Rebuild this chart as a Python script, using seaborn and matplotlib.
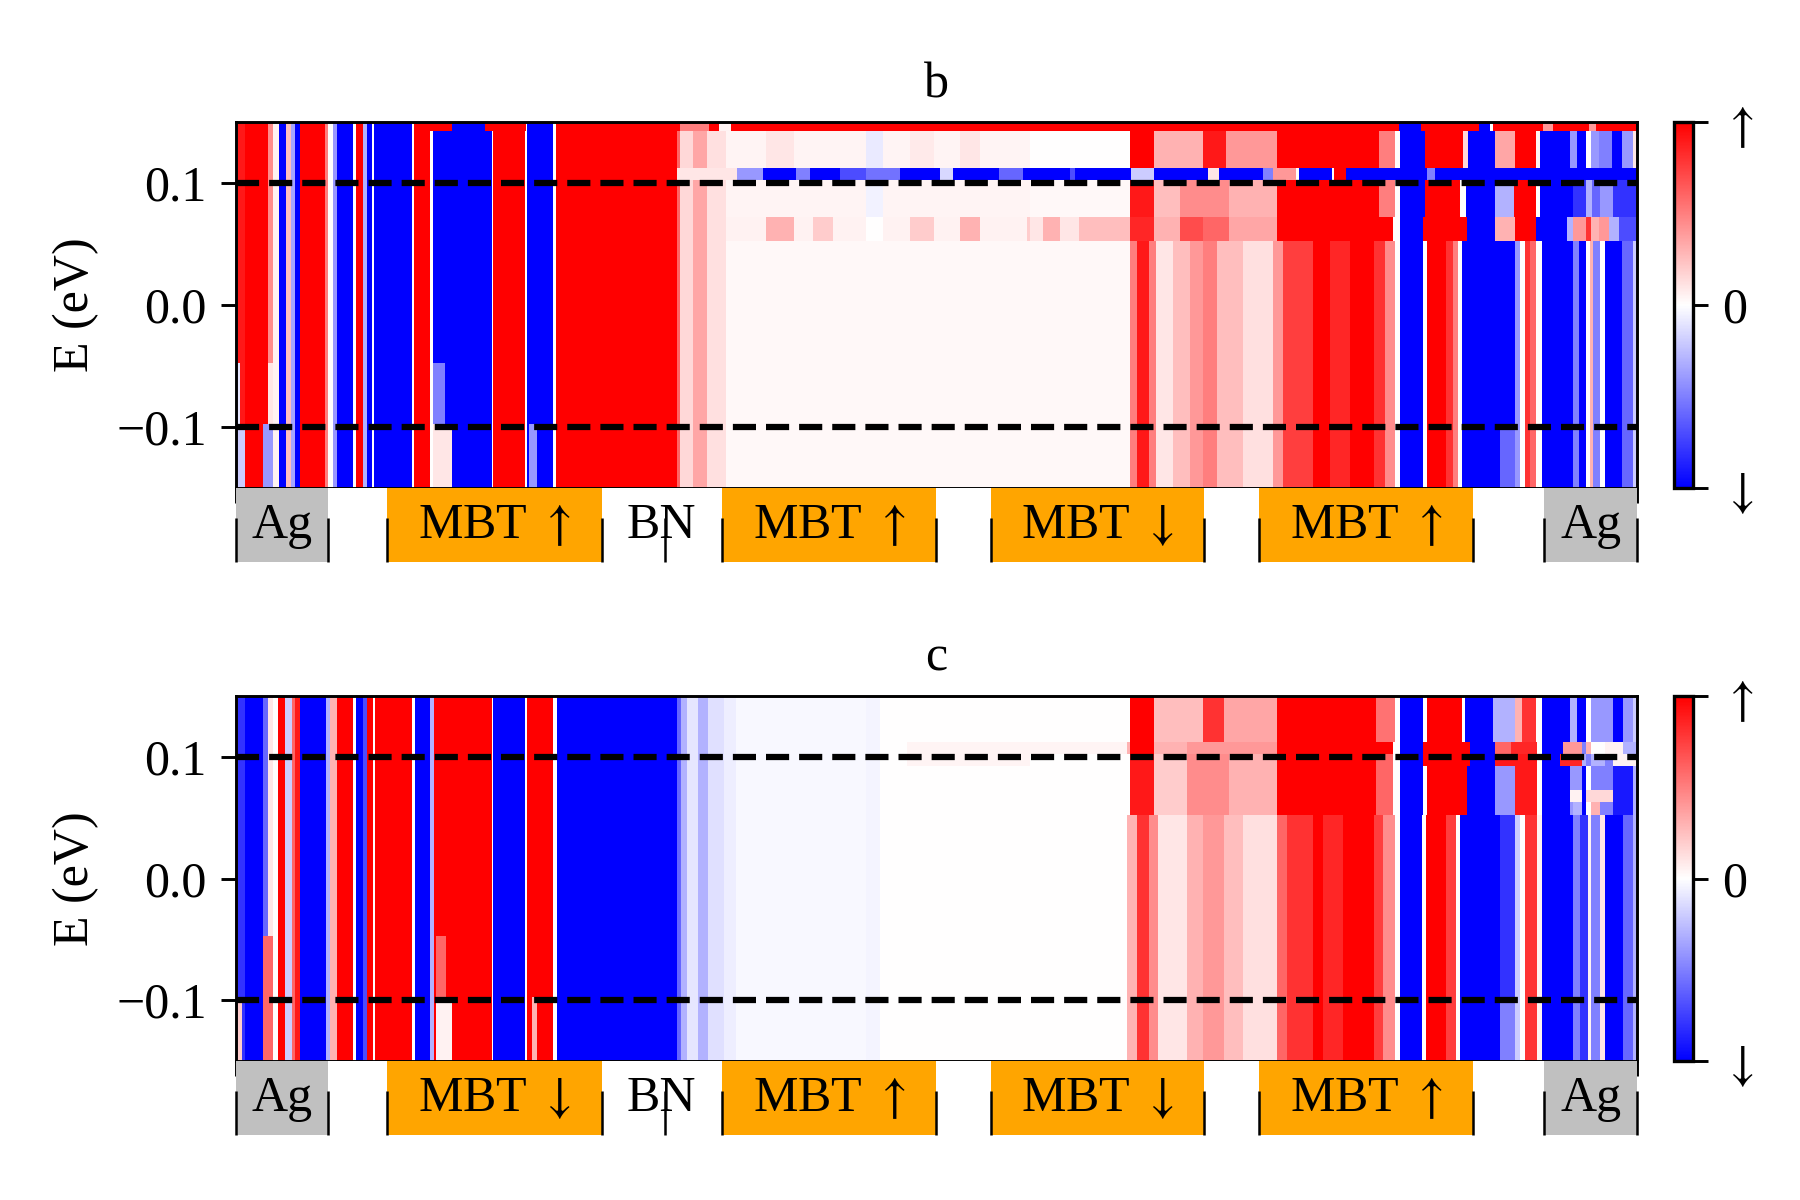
import numpy as np
import pandas as pd
import matplotlib
matplotlib.use("Agg")
import matplotlib.pyplot as plt
import seaborn as sns

plt.rcParams["font.family"] = ["Liberation Serif", "DejaVu Serif"]
plt.rcParams["mathtext.fontset"] = "stix"
plt.rcParams["font.size"] = 12
plt.rcParams["axes.linewidth"] = 0.7

UP = r"$\uparrow$"
DOWN = r"$\downarrow$"

# ---------------- data ----------------
# position along the stack (0..100 % of the slab), energy rows (eV)
energy_centers = [round(0.1475 - 0.01 * i, 4) for i in range(31)]

# layer regions of the stack
region_start = [0.0, 6.6, 10.75, 26.1, 34.67, 50.0, 53.87, 69.1, 73.04, 88.3, 93.4]
region_end = [6.6, 10.75, 26.1, 34.67, 50.0, 53.87, 69.1, 73.04, 88.3, 93.4, 100.0]
region_kind = ["Ag", "gap", "MBT", "BN", "MBT", "gap", "MBT", "gap", "MBT", "gap", "Ag"]
labels_b = ["Ag", "", "MBT " + UP, "BN", "MBT " + UP, "", "MBT " + DOWN, "", "MBT " + UP, "", "Ag"]
labels_c = ["Ag", "", "MBT " + DOWN, "BN", "MBT " + UP, "", "MBT " + DOWN, "", "MBT " + UP, "", "Ag"]
boundary_ticks = [0.0, 6.6, 10.75, 26.1, 30.6, 34.67, 50.0, 53.87, 69.1, 73.04, 88.3, 93.4, 100.0]
kind_colors = {"Ag": "silver", "MBT": "orange", "BN": "white", "gap": "white"}

# spin polarisation, panel b: base vertical stripes (x0, x1, value)
b_base = [
    (0.00, 0.17, 0.3), (0.17, 0.64, 0.9), (0.64, 2.31, 1.0), (2.31, 2.66, 0.45), (2.66, 3.09, 0.05),
    (3.09, 3.57, -1.0), (3.57, 3.97, 0.25), (3.97, 4.21, -0.35), (4.21, 4.57, -1.0), (4.57, 6.35, 1.0),
    (6.35, 6.59, 0.5), (6.59, 6.95, 0.0), (6.95, 7.19, -0.4), (7.19, 8.37, -1.0), (8.37, 8.57, 0.0),
    (8.57, 9.09, 1.0), (9.09, 9.33, -0.3), (9.33, 9.68, -1.0), (9.68, 9.85, 0.0), (9.85, 12.61, -1.0),
    (12.61, 12.70, 0.0), (12.70, 13.85, 1.0), (13.85, 14.04, 0.0), (14.04, 18.25, -1.0), (18.25, 18.37, 0.0),
    (18.37, 20.63, 1.0), (20.63, 20.75, 0.0), (20.75, 22.65, -1.0), (22.65, 22.84, 0.0), (22.84, 31.45, 1.0),
    (31.45, 31.69, 0.6), (31.69, 32.64, 0.15), (32.64, 33.60, 0.35), (33.60, 35.00, 0.12), (35.00, 63.80, 0.03),
    (63.80, 64.30, 0.5), (64.30, 65.20, 0.9), (65.20, 65.70, 0.5), (65.70, 66.90, 0.1), (66.90, 68.10, 0.25),
    (68.10, 69.00, 0.4), (69.00, 70.00, 0.5), (70.00, 71.90, 0.25), (71.90, 74.00, 0.12), (74.00, 74.75, 0.4),
    (74.75, 76.90, 0.75), (76.90, 78.10, 1.0), (78.10, 79.50, 0.85), (79.50, 81.20, 1.0), (81.20, 82.00, 0.8),
    (82.00, 82.70, 0.45), (82.70, 83.10, 0.0), (83.10, 84.75, -1.0), (84.75, 84.98, 0.0), (84.98, 86.40, 1.0),
    (86.40, 86.90, 0.8), (86.90, 87.25, 0.5), (87.25, 87.50, 0.0), (87.50, 91.30, -1.0), (91.30, 91.65, -0.4),
    (91.65, 92.00, 0.0), (92.00, 92.40, 0.8), (92.40, 92.80, 0.6), (92.80, 93.20, 0.0), (93.20, 95.45, -1.0),
    (95.45, 95.90, -0.5), (95.90, 96.40, -1.0), (96.40, 96.65, 0.0), (96.65, 96.90, 0.3), (96.90, 97.40, -0.5),
    (97.40, 97.70, 0.0), (97.70, 98.90, -1.0), (98.90, 99.70, -0.6), (99.70, 100.0, -0.2),
]
b_groups = {
    "T": [(12.70, 15.47, 1.0), (15.47, 17.77, -1.0), (17.77, 20.70, 1.0),
          (24.55, 31.70, 1.0), (31.70, 33.80, 0.5), (33.80, 34.50, 1.0), (34.50, 35.30, 0.05), (35.30, 83.00, 1.0),
          (83.00, 84.60, -1.0), (84.60, 88.70, 1.0), (88.70, 89.50, -1.0), (89.50, 89.70, 0.0), (89.70, 93.30, 1.0),
          (93.30, 94.00, 0.4), (94.00, 96.60, 1.0), (96.60, 97.10, 0.4), (97.10, 100.0, 1.0)],
    "U": [(35.00, 56.67, 0.04), (37.87, 39.78, 0.1), (45.00, 46.20, -0.08), (48.10, 49.80, 0.08), (51.67, 53.10, 0.1),
          (56.67, 63.80, 0.0), (63.80, 65.50, 1.0), (65.50, 69.00, 0.3), (69.00, 70.70, 0.9), (70.70, 74.30, 0.4),
          (74.30, 81.60, 1.0), (81.60, 82.70, 0.5), (82.70, 83.10, 0.0),
          (83.10, 84.90, -1.0), (84.90, 87.60, 1.0), (87.60, 87.96, 0.15), (87.96, 89.90, -1.0), (89.90, 91.30, 0.35),
          (91.30, 92.80, 1.0), (92.80, 93.10, 0.05), (93.10, 95.20, -1.0), (95.20, 95.70, -0.4), (95.70, 96.40, -1.0),
          (96.40, 96.70, 0.0), (96.70, 97.30, -0.4), (97.30, 98.20, -0.5), (98.20, 98.90, -1.0), (98.90, 99.70, -0.4),
          (99.70, 100.0, 0.1)],
    "L": [(31.45, 35.73, 0.1), (35.73, 37.64, -0.4), (37.64, 40.00, -1.0), (40.00, 40.97, -0.5), (40.97, 43.10, -1.0),
          (43.10, 45.00, -0.7), (45.00, 47.40, -0.55), (47.40, 50.25, -1.0), (50.25, 51.20, -0.15), (51.20, 54.50, -1.0),
          (54.50, 56.20, -0.6), (56.20, 59.50, -1.0), (59.50, 59.90, -0.7), (59.90, 63.90, -1.0), (63.90, 65.50, -0.2),
          (65.50, 69.40, -1.0), (69.40, 70.20, 0.1), (70.20, 73.30, -1.0), (73.30, 74.00, -0.5), (74.00, 75.70, 0.4),
          (75.70, 75.90, 0.0), (75.90, 78.20, -1.0), (78.20, 78.40, 0.0), (78.40, 79.20, 1.0), (79.20, 85.00, -1.0),
          (85.00, 85.60, -0.5), (85.60, 100.0, -1.0)],
    "M": [(35.00, 56.67, 0.04), (45.00, 46.20, -0.05),
          (56.67, 63.80, 0.03), (63.80, 65.50, 0.9), (65.50, 67.40, 0.25), (67.40, 70.90, 0.45), (70.90, 74.30, 0.3),
          (74.30, 81.60, 1.0), (81.60, 82.70, 0.5), (82.70, 83.10, 0.0),
          (83.10, 84.90, -1.0), (84.90, 87.40, 1.0), (87.40, 87.80, 0.0), (87.80, 89.90, -1.0), (89.90, 91.20, -0.3),
          (91.20, 92.80, 1.0), (92.80, 93.10, 0.0), (93.10, 95.45, -1.0), (95.45, 96.40, -0.8), (96.40, 96.80, -0.3),
          (96.80, 97.40, -0.6), (97.40, 98.30, -0.4), (98.30, 100.0, -0.8)],
    "P": [(35.00, 56.67, 0.05), (37.87, 39.78, 0.3), (41.20, 42.63, 0.2), (45.00, 46.20, 0.0), (48.10, 49.80, 0.2),
          (51.67, 53.10, 0.3), (56.43, 56.67, 0.2),
          (56.67, 57.60, 0.1), (57.60, 58.80, 0.3), (58.80, 60.20, 0.1), (60.20, 63.80, 0.25), (63.80, 65.50, 0.85),
          (65.50, 67.40, 0.3), (67.40, 69.00, 0.7), (69.00, 70.90, 0.6), (70.90, 74.30, 0.35), (74.30, 82.60, 1.0),
          (82.60, 83.10, 0.0),
          (83.10, 84.75, -1.0), (84.75, 87.84, 1.0), (87.84, 89.90, -1.0), (89.90, 91.30, 0.3), (91.30, 92.80, 1.0),
          (92.80, 95.00, -1.0), (95.00, 95.45, -0.3), (95.45, 96.40, 0.4), (96.40, 96.70, 0.8), (96.70, 97.30, 0.3),
          (97.30, 98.00, 0.4), (98.00, 98.70, -0.3), (98.70, 100.0, -0.7)],
    "B": [(0.00, 0.30, -0.1), (2.31, 2.66, 0.1), (14.04, 14.90, -0.5)],
    "C": [(0.00, 0.65, -0.2), (1.95, 2.66, -0.4), (14.04, 15.40, 0.1), (20.90, 21.50, -0.4), (90.20, 91.30, -0.6)],
}
b_profiles = {"A": [], "T": ["T"], "U": ["U"], "L": ["L"], "M": ["M"], "P": ["P"], "B": ["B"], "C": ["C"]}
b_rows = ["T", "U", "U", "U", "L", "M", "M", "M", "P", "P"] + ["A"] * 10 + ["B"] * 5 + ["C"] * 6

# panel c
c_base = [
    (0.00, 0.17, -0.5), (0.17, 0.64, -0.8), (0.64, 1.95, -1.0), (1.95, 2.31, -0.6), (2.31, 2.66, 0.1),
    (2.66, 3.00, 0.0), (3.00, 3.50, 1.0), (3.50, 4.00, -0.2), (4.00, 4.20, 0.6), (4.20, 4.57, 0.9),
    (4.57, 6.47, -1.0), (6.47, 6.70, -0.3), (6.70, 7.19, 0.3), (7.19, 8.37, 1.0), (8.37, 8.57, 0.0),
    (8.57, 9.09, -1.0), (9.09, 9.33, -0.7), (9.33, 9.80, 1.0), (9.80, 9.95, 0.0), (9.95, 12.61, 1.0),
    (12.61, 12.78, 0.0), (12.78, 13.85, -1.0), (13.85, 14.09, -0.3), (14.09, 18.25, 1.0), (18.25, 18.37, 0.0),
    (18.37, 20.63, -1.0), (20.63, 20.75, 0.0), (20.75, 22.65, 1.0), (22.65, 22.89, 0.0), (22.89, 31.45, -1.0),
    (31.45, 31.80, -0.6), (31.80, 32.20, -0.3), (32.20, 33.00, -0.1), (33.00, 33.70, -0.3), (33.70, 34.80, -0.12),
    (34.80, 35.70, -0.07), (35.70, 45.00, -0.025), (45.00, 46.00, -0.045), (46.00, 63.60, 0.0), (63.60, 64.30, 0.3),
    (64.30, 65.20, 0.8), (65.20, 65.80, 0.45), (65.80, 67.90, 0.1), (67.90, 69.00, 0.3), (69.00, 70.50, 0.4),
    (70.50, 71.90, 0.25), (71.90, 74.30, 0.12), (74.30, 75.00, 0.6), (75.00, 76.90, 0.8), (76.90, 77.60, 1.0),
    (77.60, 79.00, 0.85), (79.00, 81.20, 1.0), (81.20, 81.90, 0.75), (81.90, 82.70, 0.45), (82.70, 83.10, 0.0),
    (83.10, 84.63, -1.0), (84.63, 84.94, 0.0), (84.94, 86.40, 1.0), (86.40, 87.10, 0.75), (87.10, 87.36, 0.0),
    (87.36, 90.22, -1.0), (90.22, 91.30, -0.8), (91.30, 91.65, -0.2), (91.65, 92.00, 0.0), (92.00, 92.84, 0.8),
    (92.84, 93.20, 0.05), (93.20, 95.45, -1.0), (95.45, 95.93, -0.5), (95.93, 96.52, -0.8), (96.52, 96.76, 0.05),
    (96.76, 97.36, -0.5), (97.36, 97.71, 0.1), (97.71, 99.00, -1.0), (99.00, 99.73, -0.6), (99.73, 100.0, -0.3),
]
c_groups = {
    "U": [(56.67, 63.80, 0.0), (63.80, 65.50, 1.0), (65.50, 69.00, 0.25), (69.00, 70.50, 0.8), (70.50, 74.30, 0.35),
          (74.30, 81.40, 1.0), (81.40, 82.70, 0.55), (82.70, 83.10, 0.0),
          (83.10, 84.75, -1.0), (84.75, 84.98, 0.0), (84.98, 87.48, 1.0), (87.48, 87.72, 0.0), (87.72, 89.74, -1.0),
          (89.74, 91.30, -0.3), (91.30, 91.80, 0.3), (91.80, 92.80, 0.8), (92.80, 93.19, 0.0), (93.19, 95.20, -1.0),
          (95.20, 95.70, -0.3), (95.70, 96.40, -1.0), (96.40, 96.76, 0.0), (96.76, 98.30, -0.4), (98.30, 99.00, -1.0),
          (99.00, 99.73, -0.4), (99.73, 100.0, -0.2)],
    "L": [(47.90, 56.67, 0.04), (56.67, 63.60, 0.04), (63.80, 65.50, 1.0), (65.50, 67.90, 0.3), (67.90, 74.30, 0.4),
          (74.30, 82.60, 1.0), (82.60, 83.10, 0.0),
          (83.10, 84.75, -1.0), (84.75, 88.08, 1.0), (88.08, 89.86, -1.0), (89.86, 91.00, 0.6), (91.00, 92.84, 0.85),
          (92.84, 93.19, 0.0), (93.19, 94.74, -1.0), (94.74, 96.05, 0.4), (96.05, 96.40, -0.5), (96.40, 96.76, 0.3),
          (96.76, 97.71, 0.0), (97.71, 99.00, 0.05), (99.00, 100.0, -0.3)],
    "M": [(56.67, 63.80, 0.0), (63.80, 65.50, 0.9), (65.50, 67.90, 0.2), (67.90, 70.90, 0.45), (70.90, 74.30, 0.3),
          (74.30, 81.40, 1.0), (81.40, 82.60, 0.6), (82.60, 83.10, 0.0),
          (83.10, 84.75, -1.0), (84.75, 84.98, 0.0), (84.98, 87.84, 1.0), (87.84, 89.86, -1.0), (89.86, 91.30, -0.4),
          (91.30, 92.84, 0.9), (92.84, 93.19, 0.0), (93.19, 95.20, -1.0), (95.20, 96.05, -0.4), (96.05, 96.40, -1.0),
          (96.40, 96.76, 0.0), (96.76, 98.30, -0.5), (98.30, 99.73, -0.9), (99.73, 100.0, -0.3)],
    "K": [(47.90, 56.67, 0.04), (84.75, 88.08, 1.0), (88.08, 89.86, -1.0), (89.86, 92.84, 0.9), (93.19, 94.50, -1.0),
          (94.50, 96.05, 0.85), (96.05, 96.40, -0.3), (96.40, 96.76, -0.5), (96.76, 97.71, -0.3), (97.71, 98.30, -0.5),
          (98.30, 100.0, 0.05)],
    "P": [(95.20, 96.05, 0.05), (96.40, 98.30, 0.15)],
    "Q": [(95.45, 96.05, -0.3), (96.76, 97.36, 0.3)],
    "B": [(1.95, 2.66, 0.6), (14.30, 15.00, 0.6)],
    "C": [(0.00, 0.40, 0.2), (1.95, 2.66, 0.6), (14.30, 15.40, 0.05), (21.10, 21.50, 0.3), (90.22, 91.30, -0.5)],
}
c_profiles = {"A": [], "U": ["U"], "L": ["L"], "K": ["M", "K"], "M": ["M"], "P": ["M", "P"], "Q": ["M", "Q"],
              "B": ["B"], "C": ["C"]}
c_rows = ["U", "U", "U", "U", "L", "K", "M", "M", "P", "Q"] + ["A"] * 10 + ["B"] * 5 + ["C"] * 6

# ---------------- build tables ----------------
STEP = 0.05
NCOL = int(round(100 / STEP))
xc = (np.arange(NCOL) + 0.5) * STEP


def paint(row, segs):
    for x0, x1, v in segs:
        row[(xc >= x0) & (xc < x1)] = v


def build(base, groups, profiles, rows):
    cache = {}
    for name, grp in profiles.items():
        r = np.zeros(NCOL)
        paint(r, base)
        for g in grp:
            paint(r, groups[g])
        cache[name] = r
    mat = np.vstack([cache[k] for k in rows])
    return pd.DataFrame(mat, index=energy_centers, columns=np.round(xc, 3))


df_b = build(b_base, b_groups, b_profiles, b_rows)
df_c = build(c_base, c_groups, c_profiles, c_rows)


def e2y(E):
    return (0.1525 - E) / 0.01


def x2c(x):
    return x / STEP


# ---------------- figure ----------------
fig = plt.figure(figsize=(6, 4), dpi=300)
LEFT, WIDTH = 0.1311, 0.7783
panels = [
    ("b", df_b, labels_b, 0.5933, 0.3050, 0.5317),
    ("c", df_c, labels_c, 0.1158, 0.3042, 0.0542),
]
for title, df, labels, hb, hh, sb in panels:
    ax = fig.add_axes([LEFT, hb, WIDTH, hh])
    cax = fig.add_axes([0.930, hb, 0.0106, hh])
    sns.heatmap(df, ax=ax, cmap="bwr", vmin=-1, vmax=1, cbar_ax=cax,
                xticklabels=False, yticklabels=False, cbar_kws={"ticks": [-1, 0, 1]})
    for s in ax.spines.values():
        s.set_visible(True)
        s.set_linewidth(0.7)
        s.set_color("black")
    ax.set_xlim(0, NCOL)
    ax.set_ylim(e2y(-0.15), e2y(0.15))
    ax.set_yticks([e2y(0.1), e2y(0.0), e2y(-0.1)])
    ax.set_yticklabels(["0.1", "0.0", "\u22120.1"], rotation=0)
    ax.set_xticks([x2c(v) for v in boundary_ticks])
    ax.set_xticklabels([])
    ax.tick_params(axis="both", direction="out", length=3.5, width=0.7, labelsize=12, color="black")
    for E in (0.1, -0.1):
        ax.axhline(e2y(E), color="black", ls="--", lw=1.5)
    ax.set_ylabel("E (eV)", fontsize=12)
    ax.set_xlabel("")
    ax.set_title(title, fontsize=12)

    cb = ax.collections[0].colorbar
    cb.outline.set_linewidth(0.8)
    cb.outline.set_edgecolor("black")
    cb.set_ticks([-1, 0, 1])
    cb.set_ticklabels([DOWN, "0", UP])
    cax.tick_params(length=3.5, width=0.7, labelsize=12, color="black")

    sax = fig.add_axes([LEFT, sb, WIDTH, 0.0617])
    sax.set_xlim(0, NCOL)
    sax.set_ylim(0, 1)
    sax.axis("off")
    for x0, x1, kind, lab in zip(region_start, region_end, region_kind, labels):
        sax.axvspan(x2c(x0), x2c(x1), ymin=0, ymax=1, color=kind_colors[kind], lw=0)
        if lab:
            sax.text(x2c((x0 + x1) / 2), 0.32, lab, ha="center", va="baseline", fontsize=12)
    sax.vlines([x2c(v) for v in boundary_ticks], 0, 0.6, color="black", lw=0.6, clip_on=False)

fig.savefig("out.png", dpi=300)
